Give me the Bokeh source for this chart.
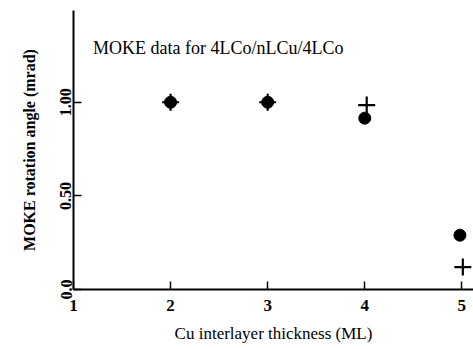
from bokeh.plotting import figure
from bokeh.models import FixedTicker, Range1d
from bokeh.core.properties import value
from bokeh.embed import file_html
from bokeh.resources import INLINE

# data
circle_x = [2, 3, 4, 4.98]
circle_y = [1.0, 1.0, 0.915, 0.29]
cross_x = [2, 3, 4.02, 5.01]
cross_y = [1.0, 1.0, 0.985, 0.12]
x_ticks = [1, 2, 3, 4, 5]
y_ticks = [0.0, 0.5, 1.0]
y_tick_labels = {0.0: "0.0", 0.5: "0.50", 1.0: "1.00"}
title_text = "MOKE data for 4LCo/nLCu/4LCo"
x_label = "Cu interlayer thickness (ML)"
y_label = "MOKE rotation angle (mrad)"

FONT = "Liberation Serif"

p = figure(width=473, height=349, output_backend="svg", toolbar_location=None,
           x_range=Range1d(1, 5.12), y_range=Range1d(0, 1.49),
           min_border_left=73, min_border_right=0, min_border_top=10, min_border_bottom=60)
p.outline_line_color = None
p.grid.visible = False
p.background_fill_color = "white"
p.border_fill_color = "white"

p.xaxis.ticker = FixedTicker(ticks=x_ticks)
p.yaxis.ticker = FixedTicker(ticks=y_ticks)
p.yaxis.major_label_overrides = y_tick_labels
for ax in (p.xaxis, p.yaxis):
    ax.major_tick_in = 8
    ax.major_tick_out = 0
    ax.minor_tick_line_color = None
    ax.axis_line_width = 2
    ax.major_tick_line_width = 1.5
    ax.axis_line_color = "black"
    ax.major_tick_line_color = "black"
    ax.major_label_text_font = FONT
    ax.major_label_text_color = "black"
    ax.axis_label_text_font = FONT
    ax.axis_label_text_color = "black"

p.xaxis.major_label_text_font_size = "17px"
p.xaxis.major_label_text_font_style = "bold"
p.xaxis.major_label_standoff = 10
p.xaxis.axis_label = x_label
p.xaxis.axis_label_standoff = 10
p.xaxis.axis_label_text_font_size = "17px"
p.xaxis.axis_label_text_font_style = "normal"

p.yaxis.major_label_orientation = "vertical"
p.yaxis.major_label_text_font_size = "16px"
p.yaxis.major_label_text_font_style = "bold"
p.yaxis.major_label_standoff = 2
p.yaxis.axis_label = y_label
p.yaxis.axis_label_standoff = 20
p.yaxis.axis_label_text_font_size = "16px"
p.yaxis.axis_label_text_font_style = "bold"

p.scatter(circle_x, circle_y, marker="circle", size=12, fill_color="black", line_color="black")
p.scatter(cross_x, cross_y, marker="cross", size=17, line_color="black", line_width=2.2)

p.text(x=[1.2], y=[1.29], text=[title_text], text_font=value(FONT),
       text_font_size="18px", text_color="black", text_baseline="middle")

open("out.html", "w").write(file_html(p, INLINE))
